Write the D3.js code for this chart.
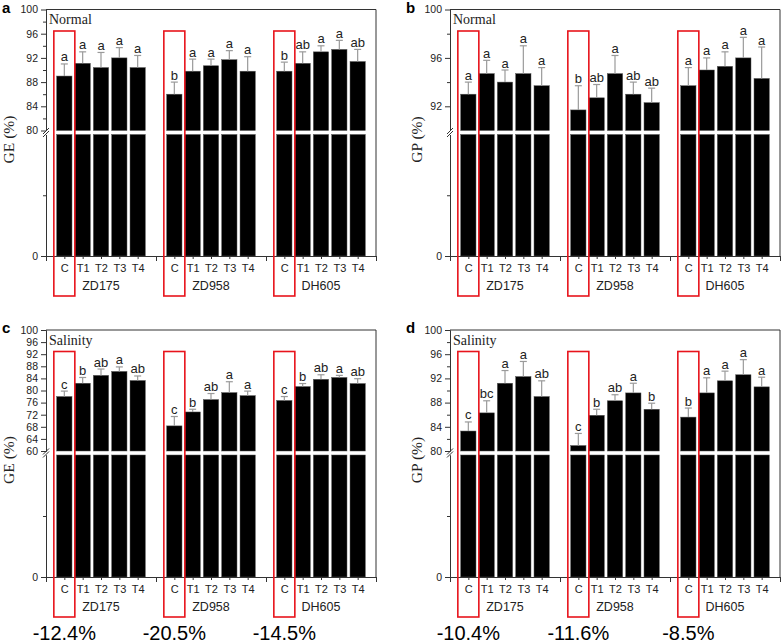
<html>
  <head>
    <style>
      body { margin: 0; background: #fff; }
      svg { font-family: "Liberation Sans", Arial, sans-serif; }
    </style>
  </head>
  <body>
    <svg width="783" height="644"></svg>
    <script src="https://cdn.jsdelivr.net/npm/d3@7"></script>
    <script>
      // categories
      var groups     = ["ZD175", "ZD958", "DH605"],
          treatments = ["C", "T1", "T2", "T3", "T4"];

      // GE, normal
      var geNormal     = [89.0, 91.1, 90.4, 92.0, 90.4,  86.0, 89.8, 90.7, 91.7, 89.8,  89.8, 91.1, 93.0, 93.4, 91.4],
          geNormalErr  = [2.0, 1.9, 2.5, 1.7, 2.0,  2.0, 2.0, 1.1, 1.5, 2.4,  1.5, 1.9, 1.0, 1.5, 2.0],
          geNormalSig  = ["a","a","a","a","a",  "b","a","a","a","a",  "b","ab","a","a","ab"];
      // GP, normal
      var gpNormal     = [93.0, 94.7, 94.0, 94.7, 93.7,  91.7, 92.7, 94.7, 93.0, 92.3,  93.7, 95.0, 95.3, 96.0, 94.3],
          gpNormalErr  = [1.0, 1.1, 1.0, 2.3, 1.5,  2.0, 1.1, 1.5, 1.0, 1.2,  1.5, 1.0, 1.2, 1.7, 2.6],
          gpNormalSig  = ["a","a","a","a","a",  "b","ab","a","ab","ab",  "a","a","a","a","a"];
      // GE, salinity
      var geSalt       = [78.0, 82.4, 85.0, 86.3, 83.3,  68.3, 72.9, 77.0, 79.3, 78.3,  76.7, 81.3, 83.7, 84.3, 82.3],
          geSaltErr    = [1.8, 1.9, 2.1, 1.5, 1.5,  3.1, 0.9, 2.0, 3.6, 1.5,  1.3, 1.0, 1.5, 0.7, 1.6],
          geSaltSig    = ["c","b","ab","a","ab",  "c","b","ab","a","a",  "c","b","ab","a","ab"];
      // GP, salinity
      var gpSalt       = [83.3, 86.3, 91.2, 92.3, 89.0,  80.9, 85.9, 88.3, 89.6, 86.9,  85.6, 89.6, 91.6, 92.6, 90.6],
          gpSaltErr    = [1.5, 2.0, 2.1, 2.5, 2.6,  2.0, 1.0, 1.0, 1.6, 1.0,  1.5, 2.5, 1.6, 2.5, 1.6],
          gpSaltSig    = ["c","bc","a","a","ab",  "c","b","ab","a","b",  "b","a","a","a","a"];

      // reduction labels under panels c and d
      var geDrop = ["-12.4%", "-20.5%", "-14.5%"],
          gpDrop = ["-10.4%", "-11.6%", "-8.5%"];

      // y ticks
      var geNormalTicks = [80, 84, 88, 92, 96, 100], geNormalMinor = [82, 86, 90, 94, 98],
          gpNormalTicks = [92, 96, 100],             gpNormalMinor = [94, 98],
          geSaltTicks   = [60, 64, 68, 72, 76, 80, 84, 88, 92, 96, 100], geSaltMinor = [],
          gpSaltTicks   = [80, 84, 88, 92, 96, 100], gpSaltMinor = [82, 86, 90, 94, 98];

      var svg   = d3.select("svg"),
          serif = "'Liberation Serif', 'Times New Roman', serif";

      var panels = [
        { tag: "a", left: 46,  top: 9.5, cut: 130.5, bottom: 256, brk: 80, label: "GE (%)", cond: "Normal",
          v: geNormal, e: geNormalErr, s: geNormalSig, ticks: geNormalTicks, minor: geNormalMinor, lowMinor: 40, labX: 14 },
        { tag: "b", left: 450, top: 9.5, cut: 130.5, bottom: 256, brk: 90, label: "GP (%)", cond: "Normal",
          v: gpNormal, e: gpNormalErr, s: gpNormalSig, ticks: gpNormalTicks, minor: gpNormalMinor, lowMinor: 45, labX: 422 },
        { tag: "c", left: 46,  top: 330, cut: 451, bottom: 577, brk: 60, label: "GE (%)", cond: "Salinity",
          v: geSalt, e: geSaltErr, s: geSaltSig, ticks: geSaltTicks, minor: geSaltMinor, lowMinor: 30, labX: 14, drop: geDrop },
        { tag: "d", left: 450, top: 330, cut: 451, bottom: 577, brk: 80, label: "GP (%)", cond: "Salinity",
          v: gpSalt, e: gpSaltErr, s: gpSaltSig, ticks: gpSaltTicks, minor: gpSaltMinor, lowMinor: 40, labX: 422, drop: gpDrop }
      ];

      panels.forEach(drawPanel);

      function drawPanel(p) {
        var right = p.left + 330,
            gapTop = p.cut + 4,
            bw = 15.3;

        var x = d3.scaleLinear().domain([-1, 17]).range([p.left, right]);
        var yUp  = d3.scaleLinear().domain([p.brk, 100]).range([p.cut, p.top]);
        var yLow = d3.scaleLinear().domain([0, p.brk]).range([p.bottom, gapTop]);

        var rows = p.v.map(function(v, i) {
          var g = Math.floor(i / 5), j = i % 5;
          return { idx: g * 6 + j, g: g, j: j, v: v, e: p.e[i], s: p.s[i] };
        });

        var g = svg.append("g");

        // bars, split at the break
        g.selectAll("rect.low").data(rows).enter().append("rect")
            .attr("x", function(d) { return x(d.idx) - bw / 2; })
            .attr("width", bw)
            .attr("y", yLow(p.brk))
            .attr("height", yLow(0) - yLow(p.brk))
            .attr("fill", "#000").attr("stroke", "#555").attr("stroke-width", 0.5);
        g.selectAll("rect.up").data(rows).enter().append("rect")
            .attr("x", function(d) { return x(d.idx) - bw / 2; })
            .attr("width", bw)
            .attr("y", function(d) { return yUp(d.v); })
            .attr("height", function(d) { return yUp(p.brk) - yUp(d.v); })
            .attr("fill", "#000").attr("stroke", "#555").attr("stroke-width", 0.5);

        // error bars
        var eb = g.selectAll("g.err").data(rows).enter().append("g")
            .attr("stroke", "#9a9a9a").attr("stroke-width", 1.2);
        eb.append("line")
            .attr("x1", function(d) { return x(d.idx); })
            .attr("x2", function(d) { return x(d.idx); })
            .attr("y1", function(d) { return yUp(d.v); })
            .attr("y2", function(d) { return yUp(d.v + d.e); });
        eb.append("line")
            .attr("x1", function(d) { return x(d.idx) - 3.5; })
            .attr("x2", function(d) { return x(d.idx) + 3.5; })
            .attr("y1", function(d) { return yUp(d.v + d.e); })
            .attr("y2", function(d) { return yUp(d.v + d.e); });

        // significance letters
        g.selectAll("text.sig").data(rows).enter().append("text")
            .attr("x", function(d) { return x(d.idx); })
            .attr("y", function(d) { return yUp(d.v + d.e) - 2.5; })
            .attr("text-anchor", "middle")
            .attr("font-size", 13).attr("fill", "#222")
            .text(function(d) { return d.s; });

        // frame
        g.append("path")
            .attr("d", "M" + p.left + "," + p.top + "H" + right + "V" + p.bottom)
            .attr("fill", "none").attr("stroke", "#333").attr("stroke-width", 1);

        // y axes (two segments)
        function yAxis(scale, vals, size, fmt) {
          var a = d3.axisLeft(scale).tickValues(vals).tickSize(size).tickSizeOuter(0);
          if (!fmt) a.tickFormat("");
          var ax = g.append("g").attr("transform", "translate(" + p.left + ",0)").call(a);
          ax.attr("font-family", null);
          ax.selectAll("path,line").attr("stroke", "#333");
          ax.selectAll("text").attr("font-size", 10.5).attr("fill", "#222");
          return ax;
        }
        yAxis(yUp, p.ticks, 5, true);
        yAxis(yUp, p.minor, 3, false);
        yAxis(yLow, [0], 5, true);
        yAxis(yLow, [p.lowMinor], 3, false);

        // break marks
        [p.cut + 0.5, gapTop - 0.5].forEach(function(yy) {
          g.append("line")
              .attr("x1", p.left - 3).attr("x2", p.left + 3)
              .attr("y1", yy + 3).attr("y2", yy - 3)
              .attr("stroke", "#333").attr("stroke-width", 1);
        });

        // x axis
        var idxs = rows.map(function(d) { return d.idx; });
        var xa = g.append("g").attr("transform", "translate(0," + p.bottom + ")")
            .call(d3.axisBottom(x).tickValues([-1, 5, 11, 17]).tickSize(5).tickSizeOuter(0).tickFormat(""));
        var xm = g.append("g").attr("transform", "translate(0," + p.bottom + ")")
            .call(d3.axisBottom(x).tickValues(idxs).tickSize(3).tickSizeOuter(0)
                  .tickFormat(function(v) { return treatments[((v % 6) + 6) % 6]; }));
        xm.attr("font-family", null);
        xa.selectAll("path,line").attr("stroke", "#333");
        xm.selectAll("path,line").attr("stroke", "#333");
        xm.selectAll("text").attr("font-size", 11).attr("fill", "#222").attr("y", 8);

        // group labels
        g.selectAll("text.grp").data(groups).enter().append("text")
            .attr("x", function(d, i) { return x(i * 6 + 2); })
            .attr("y", p.bottom + 34)
            .attr("text-anchor", "middle").attr("font-size", 12.5).attr("fill", "#222")
            .text(function(d) { return d; });

        // red boxes around the control bars
        g.selectAll("rect.box").data(groups).enter().append("rect")
            .attr("x", function(d, i) { return x(i * 6) - 10.5; })
            .attr("width", 21)
            .attr("y", p.top + 21.5)
            .attr("height", p.bottom + 40 - (p.top + 21.5))
            .attr("fill", "none").attr("stroke", "#e8141c").attr("stroke-width", 1.6);

        // condition label
        g.append("text")
            .attr("x", p.left + 3).attr("y", p.top + 14.5)
            .style("font-family", serif)
            .attr("font-size", 14).attr("fill", "#222")
            .text(p.cond);

        // y title
        g.append("text")
            .attr("transform", "translate(" + p.labX + "," + (p.top + 130) + ") rotate(-90)")
            .attr("text-anchor", "middle")
            .style("font-family", serif)
            .attr("font-size", 15.5).attr("fill", "#222")
            .text(p.label);

        // panel letter
        g.append("text")
            .attr("x", p.left - 44).attr("y", p.top + 3)
            .attr("font-weight", "bold").attr("font-size", 15).attr("fill", "#000")
            .text(p.tag);

        if (p.drop) {
          g.selectAll("text.drop").data(p.drop).enter().append("text")
              .attr("x", function(d, i) { return x(i * 6); })
              .attr("y", 640)
              .attr("text-anchor", "middle").attr("font-size", 20).attr("fill", "#000")
              .text(function(d) { return d; });
        }
      }
    </script>
  </body>
</html>
